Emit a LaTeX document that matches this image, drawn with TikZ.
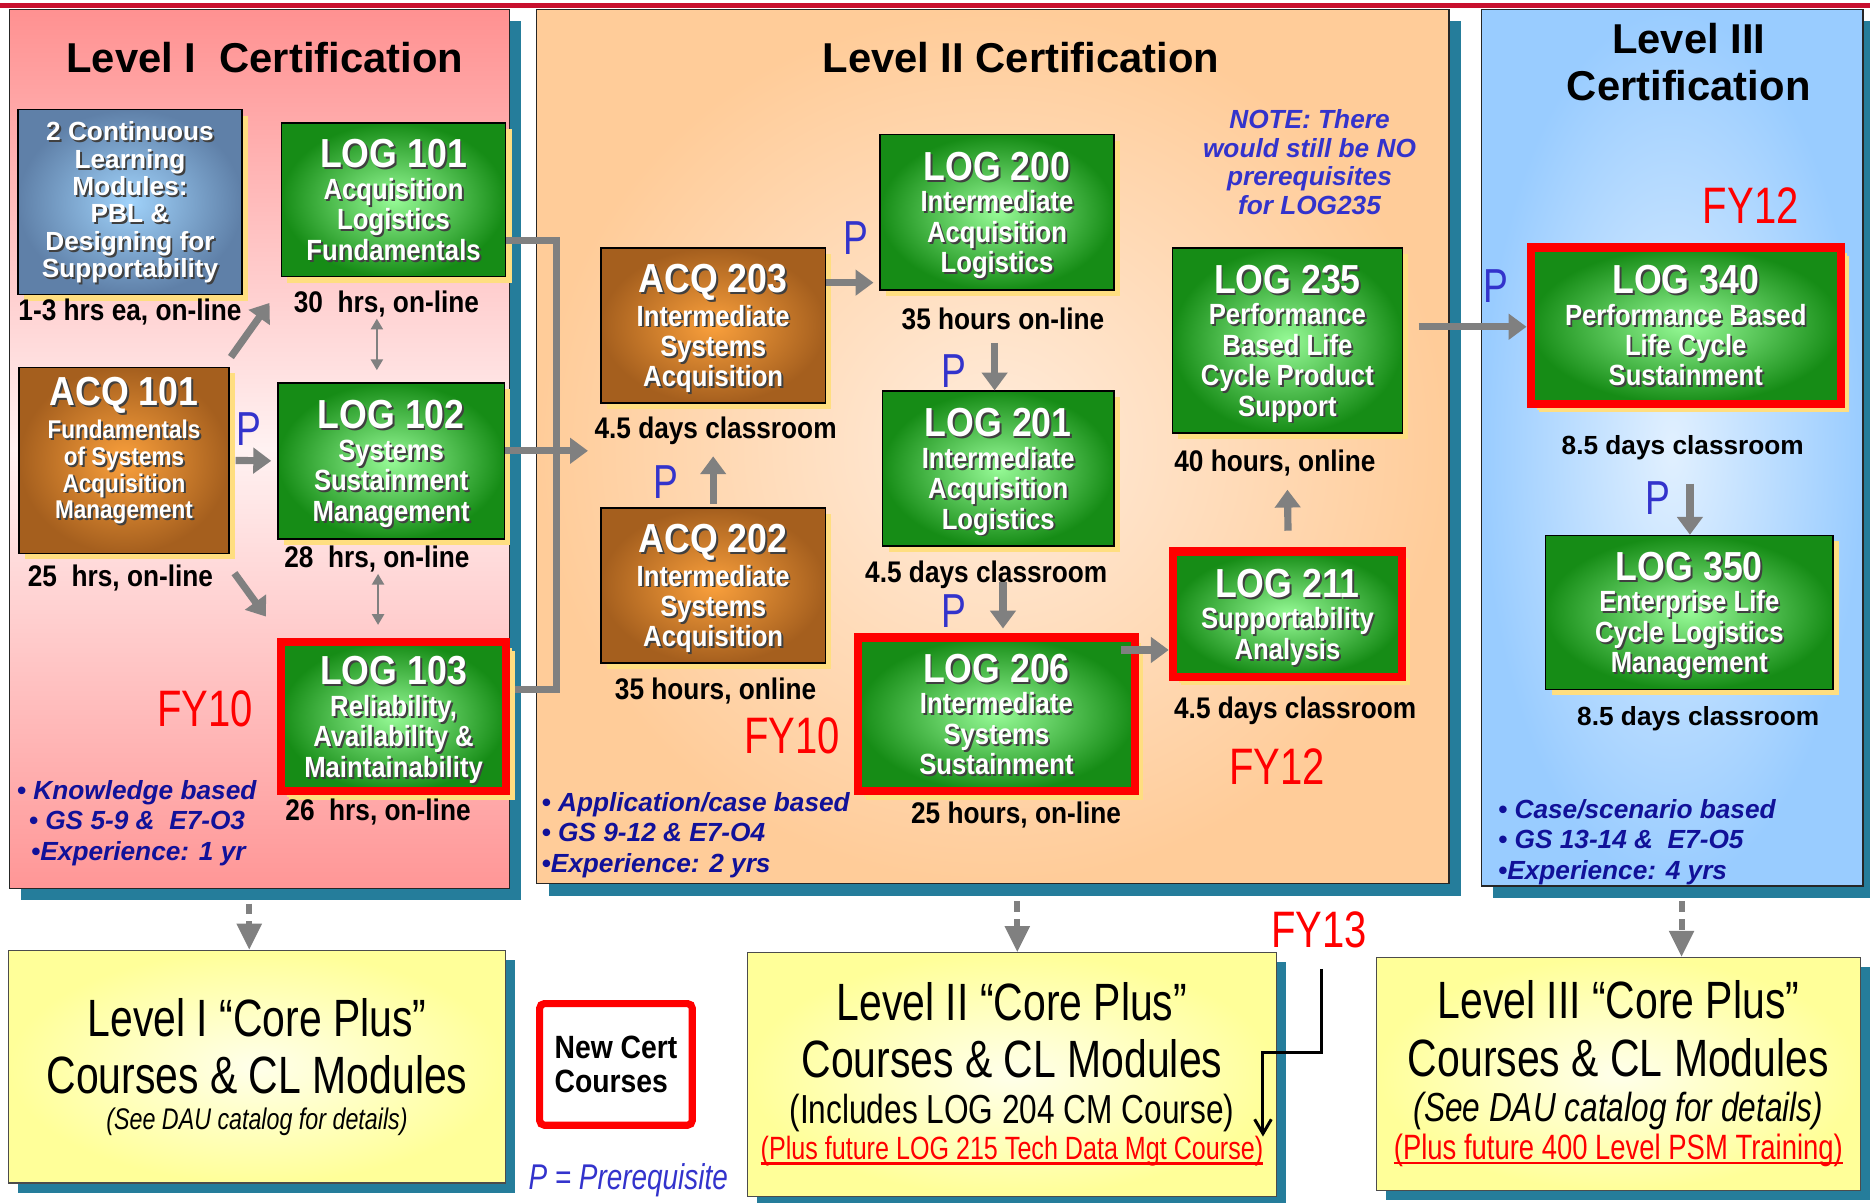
\documentclass[tikz,border=0pt]{standalone}
\usepackage{fontspec}
\setmainfont{Liberation Sans}
\newfontfamily\semifont[FakeStretch=0.88]{Liberation Sans}
\newfontfamily\condfont[FakeStretch=0.78]{Liberation Sans}
\usepackage{tikz}
\usetikzlibrary{arrows.meta, shadows, positioning}

\definecolor{topred}{RGB}{200,16,46}
\definecolor{tealshadow}{RGB}{37,125,155}
\definecolor{pinktop}{RGB}{255,145,145}
\definecolor{pinkmid}{RGB}{255,242,242}
\definecolor{pinkbot}{RGB}{255,150,150}
\definecolor{peach}{RGB}{255,204,153}
\definecolor{peachin}{RGB}{255,236,220}
\definecolor{skyblue}{RGB}{153,204,255}
\definecolor{skyin}{RGB}{225,240,255}
\definecolor{shyellow}{RGB}{255,222,128}
\definecolor{grout}{RGB}{22,140,22}
\definecolor{grin}{RGB}{150,250,150}
\definecolor{brout}{RGB}{165,95,30}
\definecolor{brin}{RGB}{250,160,60}
\definecolor{blout}{RGB}{95,128,168}
\definecolor{blin}{RGB}{160,210,250}
\definecolor{arrgray}{RGB}{128,128,128}
\definecolor{newred}{RGB}{255,0,0}
\definecolor{pblue}{RGB}{51,51,204}
\definecolor{bulblue}{RGB}{17,17,153}
\definecolor{lightyel}{RGB}{255,255,153}

\newcommand{\tshadow}[1]{\leavevmode\rlap{\hspace{1.6pt}\raisebox{-1.6pt}{\color{black!75}#1}}#1}
\newcommand{\ccode}[1]{{\semifont\fontsize{34}{36}\selectfont\tshadow{#1}}}
\newsavebox{\ulbox}
\newcommand{\redul}[1]{\sbox{\ulbox}{#1}\rlap{\rule[-4pt]{\wd\ulbox}{2pt}}\usebox{\ulbox}}

\tikzstyle{panel} = [rectangle, draw=black!85, line width=1.2pt, inner sep=0pt, drop shadow={shadow xshift=10pt, shadow yshift=-10pt, fill=tealshadow, opacity=1}]
\tikzstyle{course} = [rectangle, draw=black, line width=1.2pt, text=white, align=center, inner sep=0pt, text depth=0pt, font=\semifont\fontsize{24.5}{25.5}\selectfont\bfseries, drop shadow={shadow xshift=5pt, shadow yshift=-5pt, fill=shyellow, opacity=1}]
\tikzstyle{greenbox} = [course, inner color=grin, outer color=grout]
\tikzstyle{brownbox} = [course, inner color=brin, outer color=brout]
\tikzstyle{newbox} = [draw=newred, line width=7pt, drop shadow={shadow xshift=7pt, shadow yshift=-7pt, fill=shyellow, opacity=1}]
\tikzstyle{leveltitle} = [font=\fontsize{35}{40}\selectfont\bfseries, align=center]
\tikzstyle{hrs} = [font=\semifont\fontsize{25}{28}\selectfont\bfseries, inner sep=1pt]
\tikzstyle{hrswide} = [font=\fontsize{22}{26}\selectfont\bfseries, inner sep=1pt]
\tikzstyle{preq} = [text=pblue, font=\condfont\fontsize{40}{40}\selectfont, inner sep=0pt]
\tikzstyle{fy} = [text=newred, font=\condfont\fontsize{43}{45}\selectfont, inner sep=0pt]
\tikzstyle{bullets} = [text=bulblue, font=\fontsize{22}{25.5}\selectfont\bfseries\itshape, align=left, inner sep=0pt, anchor=west]
\tikzstyle{prearrow} = [draw=arrgray, line width=6pt, -{Triangle[length=15pt, width=21pt]}]
\tikzstyle{dblarrow} = [draw=arrgray, line width=2pt, {Triangle[length=9pt, width=10pt]}-{Triangle[length=9pt, width=10pt]}]
\tikzstyle{bracket} = [draw=arrgray, line width=6pt]
\tikzstyle{dasharrow} = [draw=arrgray, line width=5pt, dash pattern=on 9pt off 6pt, -{Triangle[length=22pt, width=20pt]}]
\tikzstyle{blkarrow} = [draw=black, line width=2.5pt, -{Straight Barb[length=12pt, width=14pt]}]
\tikzstyle{corebox} = [rectangle, draw=black!70, line width=1pt, inner color=white!80!lightyel, outer color=lightyel, align=center, inner sep=0pt, font=\condfont\fontsize{44}{48}\selectfont, drop shadow={shadow xshift=8pt, shadow yshift=-8pt, fill=tealshadow, opacity=1}]

\begin{document}
\begin{tikzpicture}[x=1pt, y=1pt]
\useasboundingbox (0,0) rectangle (1568,-1008);
\fill [topred] (0,-2.5) rectangle (1568,-6.5);

% the three levels
\node (panelI) [panel, top color=pinktop, bottom color=pinkbot, middle color=pinkmid, minimum width=419pt, minimum height=737pt] at (217.5,-376.5) {};
\node (panelII) [panel, inner color=peachin, outer color=peach, minimum width=765pt, minimum height=733pt] at (832.5,-374.5) {};
\node (panelIII) [panel, inner color=skyin, outer color=skyblue, minimum width=320pt, minimum height=735pt] at (1402,-375.5) {};

\node (titleI) [leveltitle] at (222,-48) {Level I\ \ Certification};
\node (titleII) [leveltitle] at (856,-48) {Level II Certification};
\node (titleIII) [leveltitle] at (1416,-52) {Level III\\Certification};

% level I
\node (cl) [course, inner color=blin, outer color=blout, minimum width=188pt, minimum height=155pt, text depth=4pt, font=\fontsize{22}{23}\selectfont\bfseries] at (109,-169.5) {\tshadow{2 Continuous}\\\tshadow{Learning}\\\tshadow{Modules:}\\\tshadow{PBL \&}\\\tshadow{Designing for}\\\tshadow{Supportability}};
\node (log101) [greenbox, minimum width=188pt, minimum height=129pt] at (330,-167.5) {\ccode{LOG 101}\\[1pt]\tshadow{Acquisition}\\\tshadow{Logistics}\\\tshadow{Fundamentals}};
\node (log102) [greenbox, minimum width=190pt, minimum height=131pt] at (328,-386.5) {\ccode{LOG 102}\\[1pt]\tshadow{Systems}\\\tshadow{Sustainment}\\\tshadow{Management}};
\node (log103) [greenbox, newbox, minimum width=189pt, minimum height=125pt] at (330,-601) {\ccode{LOG 103}\\[1pt]\tshadow{Reliability,}\\\tshadow{Availability \&}\\\tshadow{Maintainability}};
\node (acq101) [brownbox, minimum width=176pt, minimum height=156pt, text depth=21pt, font=\semifont\fontsize{21.5}{22.5}\selectfont\bfseries] at (104,-386) {\ccode{ACQ 101}\\[3pt]\tshadow{Fundamentals}\\\tshadow{of Systems}\\\tshadow{Acquisition}\\\tshadow{Management}};

\node (lblcl) [hrs] at (109,-262) {1-3 hrs ea, on-line};
\node (lbl101) [hrs] at (324,-255) {30\ \ hrs, on-line};
\node (lbl102) [hrs] at (316,-469) {28\ \ hrs, on-line};
\node (lbl103) [hrs] at (317,-681) {26\ \ hrs, on-line};
\node (lblacq101) [hrs] at (101,-485) {25\ \ hrs, on-line};
\node (p1) [preq] at (209,-360) {P};
\node (fyI) [fy] at (172,-594) {FY10};
\node (bulI) [bullets] at (14,-690) {• Knowledge based\\\hspace{10pt}• GS 5-9 \&\ \ E7-O3\\\hspace{12pt}•Experience: 1 yr};

% level II
\node (acq203) [brownbox, minimum width=188pt, minimum height=130pt] at (598,-273) {\ccode{ACQ 203}\\[1pt]\tshadow{Intermediate}\\\tshadow{Systems}\\\tshadow{Acquisition}};
\node (acq202) [brownbox, minimum width=188pt, minimum height=130pt] at (598,-491) {\ccode{ACQ 202}\\[1pt]\tshadow{Intermediate}\\\tshadow{Systems}\\\tshadow{Acquisition}};
\node (log200) [greenbox, minimum width=196pt, minimum height=130pt] at (836,-178) {\ccode{LOG 200}\\[1pt]\tshadow{Intermediate}\\\tshadow{Acquisition}\\\tshadow{Logistics}};
\node (log201) [greenbox, minimum width=194pt, minimum height=130pt] at (837,-393) {\ccode{LOG 201}\\[1pt]\tshadow{Intermediate}\\\tshadow{Acquisition}\\\tshadow{Logistics}};
\node (log206) [greenbox, newbox, minimum width=232pt, minimum height=129pt] at (835.5,-599) {\ccode{LOG 206}\\[1pt]\tshadow{Intermediate}\\\tshadow{Systems}\\\tshadow{Sustainment}};
\node (log235) [greenbox, minimum width=193pt, minimum height=155pt] at (1079.5,-285.5) {\ccode{LOG 235}\\[1pt]\tshadow{Performance}\\\tshadow{Based Life}\\\tshadow{Cycle Product}\\\tshadow{Support}};
\node (log211) [greenbox, newbox, minimum width=192pt, minimum height=105pt] at (1079.5,-515) {\ccode{LOG 211}\\[1pt]\tshadow{Supportability}\\\tshadow{Analysis}};

\node (lbl203) [hrs] at (600,-361) {4.5 days classroom};
\node (lbl202) [hrs] at (600,-579) {35 hours, online};
\node (lbl200) [hrs] at (841,-267) {35 hours on-line};
\node (lbl201) [hrs] at (827,-482) {4.5 days classroom};
\node (lbl206) [hrs] at (852,-683) {25 hours, on-line};
\node (lbl235) [hrs] at (1069,-388) {40 hours, online};
\node (lbl211) [hrs] at (1086,-596) {4.5 days classroom};
\node (p2) [preq] at (718,-200) {P};
\node (p3) [preq] at (800,-311) {P};
\node (p4) [preq] at (800,-512) {P};
\node (p5) [preq] at (558,-404) {P};
\node (fyII) [fy] at (664,-617) {FY10};
\node (fyIIb) [fy] at (1071,-643) {FY12};
\node (note) [text=pblue, font=\fontsize{22}{24}\selectfont\bfseries\itshape, align=center, inner sep=0pt] at (1098,-136) {NOTE: There\\would still be NO\\prerequisites\\for LOG235};
\node (bulII) [bullets] at (454,-700) {• Application/case based\\• GS 9-12 \& E7-O4\\•Experience: 2 yrs};

% level III
\node (log340) [greenbox, newbox, minimum width=260pt, minimum height=131pt] at (1413.5,-273) {\ccode{LOG 340}\\[1pt]\tshadow{Performance Based}\\\tshadow{Life Cycle}\\\tshadow{Sustainment}};
\node (log350) [greenbox, minimum width=241pt, minimum height=129pt] at (1416.5,-513.5) {\ccode{LOG 350}\\[1pt]\tshadow{Enterprise Life}\\\tshadow{Cycle Logistics}\\\tshadow{Management}};
\node (lbl340) [hrswide] at (1411,-375) {8.5 days classroom};
\node (lbl350) [hrswide] at (1424,-603) {8.5 days classroom};
\node (p6) [preq] at (1254,-240) {P};
\node (p7) [preq] at (1390,-418) {P};
\node (fyIII) [fy] at (1468,-172) {FY12};
\node (bulIII) [bullets] at (1256,-706) {• Case/scenario based\\• GS 13-14 \&\ \ E7-O5\\•Experience: 4 yrs};

% prerequisites
\coordinate (upI) at (226,-254);
\coordinate (downI) at (223,-517);
\coordinate (lvlIIin) at (493,-378);
\draw [prearrow, shorten <=5pt, shorten >=5pt] (acq101.east) -- (log102.west);
\draw [prearrow] ([xshift=1pt,yshift=8pt]acq101.north east) -- (upI);
\draw [prearrow] ([xshift=4pt,yshift=-16pt]acq101.south east) -- (downI);
\draw [dblarrow] ([xshift=-8pt]lbl101.south) -- ([xshift=-8pt,yshift=10pt]lbl101.south |- log102.north);
\draw [dblarrow] ([xshift=1pt]lbl102.south) -- ([xshift=1pt,yshift=11pt]lbl102.south |- log103.north);
\draw [bracket] ([yshift=-34.5pt]log101.east) -- ++(42,0) |- ([xshift=3.5pt,yshift=23pt]log103.east);
\draw [prearrow] ([yshift=8.5pt]log102.east) -- (lvlIIin);

\draw [prearrow, shorten >=5pt] ([yshift=36pt]acq203.east) -- ([yshift=36pt]acq203.east -| log200.west);
\draw [prearrow] ([yshift=3pt]acq202.north) -- ([yshift=-44pt]acq203.south);
\draw [prearrow] ([xshift=-2pt,yshift=-44pt]log200.south) -- ([xshift=-2pt]log200.south |- log201.north);
\draw [prearrow] ([xshift=4pt,yshift=-29pt]log201.south) -- ([xshift=4pt,yshift=4pt]log201.south |- log206.north);
\draw [prearrow] ([xshift=-15pt,yshift=54pt]log206.east) -- ([yshift=54pt]log206.east -| log211.west);
\draw [prearrow] ([xshift=0.5pt,yshift=14pt]log211.north) -- ([yshift=-47pt]log235.south);
\draw [prearrow] ([xshift=13pt,yshift=11.5pt]log235.east) -- ([yshift=11.5pt]log235.east -| log340.west);
\draw [prearrow] ([xshift=3.5pt,yshift=-63.5pt]log340.south) -- ([xshift=3.5pt]log340.south |- log350.north);

% core plus
\node (yelI) [corebox, minimum width=417pt, minimum height=195pt] at (215.5,-894.5) {Level I “Core Plus”\\Courses \& CL Modules\\[-18pt]{\fontsize{25}{28}\selectfont\itshape (See DAU catalog for details)}};
\node (yelII) [corebox, minimum width=443pt, minimum height=204pt] at (848.5,-901) {Level II “Core Plus”\\Courses \& CL Modules\\[-10pt]{\fontsize{34}{36}\selectfont (Includes LOG 204 CM Course)}\\[-17pt]{\fontsize{27}{30}\selectfont\color{newred}\redul{(Plus future LOG 215 Tech Data Mgt Course)}}};
\node (yelIII) [corebox, minimum width=406pt, minimum height=195pt] at (1357,-900.5) {Level III “Core Plus”\\Courses \& CL Modules\\[-10pt]{\fontsize{34}{36}\selectfont\itshape (See DAU catalog for details)}\\[-16pt]{\fontsize{29.5}{32}\selectfont\color{newred}\redul{(Plus future 400 Level PSM Training)}}};
\node (newcert) [draw=newred, line width=6pt, rounded corners=4pt, fill=white, minimum width=128pt, minimum height=102pt, align=left, font=\semifont\fontsize{27}{29}\selectfont\bfseries] at (516.5,-892.5) {New Cert\\Courses};
\node (plegend) [anchor=west, text=pblue, font=\condfont\fontsize{30}{32}\selectfont\itshape, inner sep=0pt] at (443,-990) {P = Prerequisite};
\node (fy13) [fy] at (1106,-780) {FY13};

\draw [dasharrow] ([xshift=-8.5pt,yshift=-12pt]panelI.south) -- ([xshift=-8.5pt]panelI.south |- yelI.north);
\draw [dasharrow] ([xshift=20.5pt,yshift=-14pt]panelII.south) -- ([xshift=20.5pt]panelII.south |- yelII.north);
\draw [dasharrow] ([xshift=8pt,yshift=-12pt]panelIII.south) -- ([xshift=8pt]panelIII.south |- yelIII.north);
\coordinate (fytip) at (1059,-953);
\draw [blkarrow] ([xshift=2pt,yshift=-17pt]fy13.south) -- ++(0,-70) -| (fytip);
\end{tikzpicture}
\end{document}
